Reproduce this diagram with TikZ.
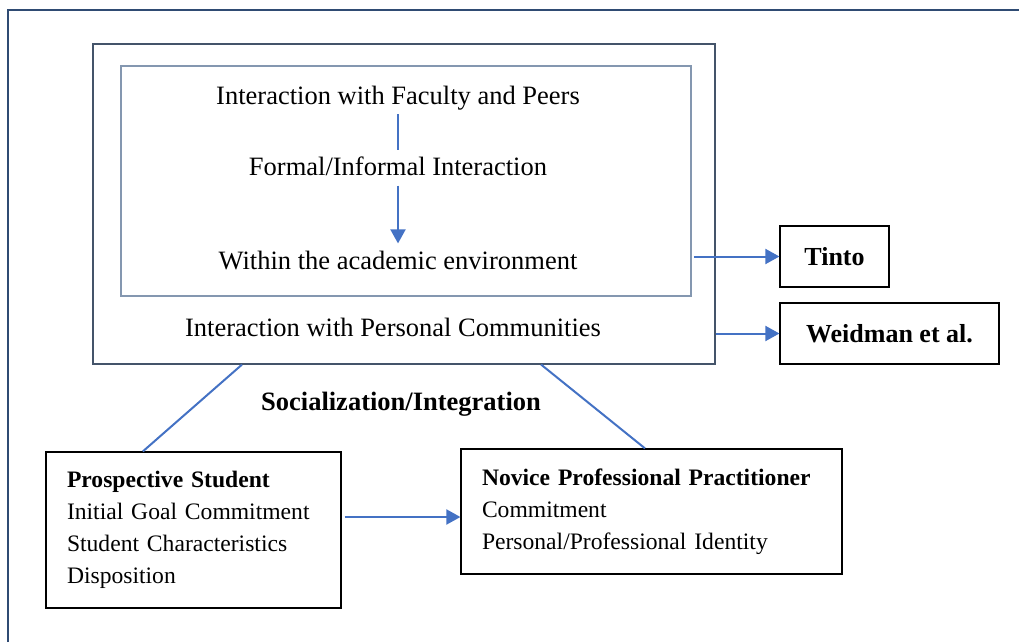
\documentclass[tikz,border=0pt]{standalone}
\usepackage{fontspec}
\setmainfont{Liberation Serif}
\usetikzlibrary{positioning,calc,arrows.meta}
\definecolor{framecol}{HTML}{2F4B73}
\definecolor{bigcol}{HTML}{44546A}
\definecolor{innercol}{HTML}{8497B0}
\definecolor{arrowcol}{HTML}{4472C4}

\begin{document}
\begin{tikzpicture}[x=1pt, y=-1pt,
    bigtxt/.style={font=\fontsize{26.5}{32}\selectfont, inner sep=2pt},
    link/.style={draw=arrowcol, line width=2pt},
    flow/.style={link, -{Triangle[length=14pt, width=15pt]}},
    refbox/.style={draw=black, line width=1.2pt, font=\fontsize{26}{32}\selectfont\bfseries, minimum height=61pt},
    infobox/.style={draw=black, line width=1.2pt, align=left, font=\fontsize{23.6}{32}\selectfont, inner xsep=21pt}]
    \useasboundingbox (0,0) rectangle (1019,642);
    % Page frame
    \draw[framecol, line width=1.2pt] (8,642) -- (8,10) -- (1019,10);

    % Interaction boxes
    \node[draw=bigcol, line width=1.2pt, minimum width=622pt, minimum height=320pt] (big) at (404,204) {};
    \node[draw=innercol, line width=1.5pt, minimum width=570pt, minimum height=230pt] (inner) at (406,181) {};
    \node[bigtxt] (faculty) at (398,98) {Interaction with Faculty and Peers};
    \node[bigtxt] (formal) at (398,166) {Formal/Informal Interaction};
    \node[bigtxt] (within) at (398,261) {Within the academic environment};
    \node[bigtxt] (personal) at (393,327) {Interaction with Personal Communities};
    \draw[link, shorten <=2pt, shorten >=4pt] (faculty) -- (formal);
    \draw[flow, shorten <=8pt, shorten >=6pt] (formal) -- (within);

    % Theorists
    \node[refbox, minimum width=109pt] (tinto) at (834.5,256.5) {Tinto};
    \node[refbox, minimum width=219pt] (weidman) at (889.5,333.5) {Weidman et al.};
    \draw[flow] ([xshift=2pt]inner.east |- tinto.west) -- (tinto.west);
    \draw[flow] (big.east |- weidman.west) -- (weidman.west);

    \node[bigtxt, font=\fontsize{26.5}{32}\selectfont\bfseries] (social) at (401,404) {Socialization/Integration};

    % Student stages
    \node[infobox, minimum width=295pt, minimum height=156pt, text width=253pt] (prosp) at (193.5,530)
        {\textbf{Prospective Student}\\Initial Goal Commitment\\Student Characteristics\\Disposition};
    \node[infobox, minimum width=381pt, minimum height=125pt, text width=339pt] (novice) at (651.5,511.5)
        {\textbf{Novice Professional Practitioner}\\Commitment\\Personal/Professional Identity};
    \draw[link] ($(big.south west)!0.24!(big.south east)$) -- ($(prosp.north west)!0.329!(prosp.north east)$);
    \draw[link] ($(big.south west)!0.72!(big.south east)$) -- ($(novice.north west)!0.483!(novice.north east)$);
    \coordinate (pstart) at ($(prosp.east)+(3,-13)$);
    \draw[flow] (pstart) -- (pstart -| novice.west);
\end{tikzpicture}
\end{document}
